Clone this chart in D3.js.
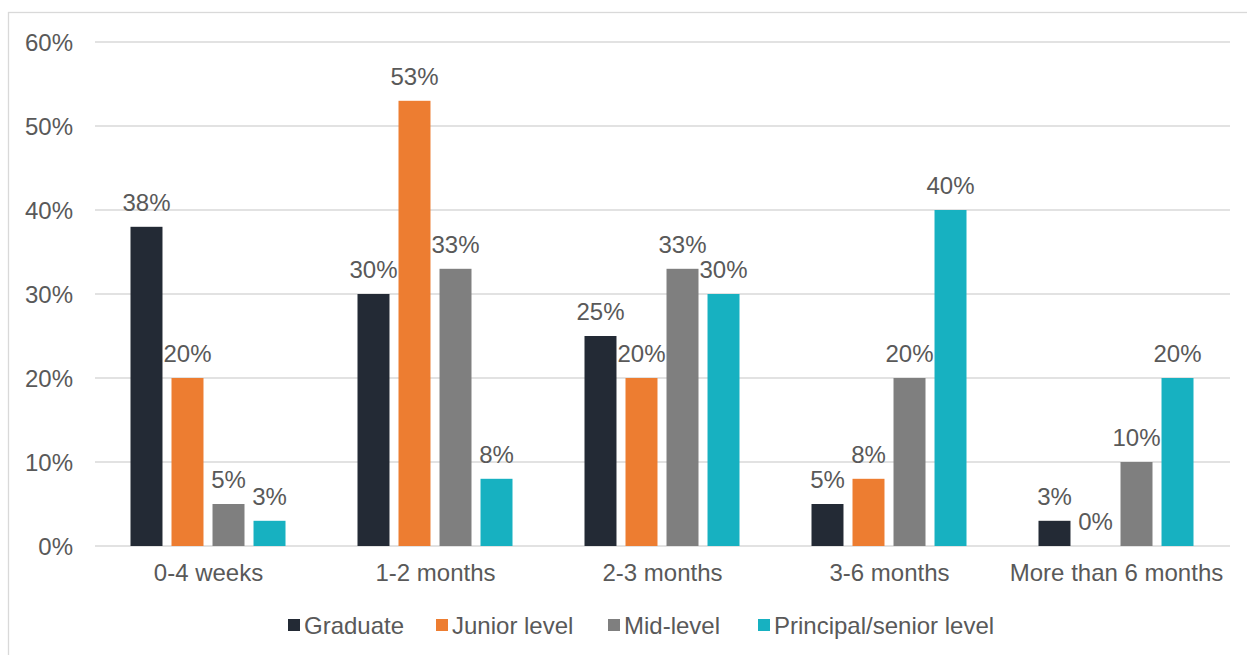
<!DOCTYPE html>
<html><head><meta charset="utf-8">
<script src="https://cdn.jsdelivr.net/npm/d3@7"></script>
<style>body{margin:0;background:#fff}svg{display:block}text{font-family:"Liberation Sans",Arial,sans-serif;fill:#595959}</style>
</head><body><svg id="c" width="1247" height="655"></svg>
<script>
const categories = ["0-4 weeks","1-2 months","2-3 months","3-6 months","More than 6 months"];
const seriesNames = ["Graduate","Junior level","Mid-level","Principal/senior level"];
const graduate = [38,30,25,5,3];
const junior = [20,53,20,8,0];
const mid = [5,33,33,20,10];
const principal = [3,8,30,40,20];
const yTicks = [0,10,20,30,40,50,60];
const colors = ["#232A35","#ED7D31","#7F7F7F","#17B1C1"];
const series = [graduate, junior, mid, principal];
const FS = 24;

const svg = d3.select("#c");
svg.append("rect").attr("x",8.5).attr("y",12.5).attr("width",1250).attr("height",700).attr("fill","none").attr("stroke","#D9D9D9").attr("stroke-width",1.3);

const x0 = d3.scaleBand().domain(categories).range([95,1230]).paddingInner(0).paddingOuter(0);
const x1 = d3.scaleBand().domain(seriesNames).range([35.5,190.5]).paddingInner(0.22).paddingOuter(0);
const y = d3.scaleLinear().domain([0,60]).range([546,42]);

const grid = svg.append("g");
yTicks.forEach(t=>{
  grid.append("line").attr("x1",95).attr("x2",1230).attr("y1",y(t)).attr("y2",y(t)).attr("stroke","#D9D9D9").attr("stroke-width",1.5);
});
const yAxis = d3.axisLeft(y).tickValues(yTicks).tickFormat(d=>d+"%").tickSize(0).tickPadding(0);
const ya = svg.append("g").attr("transform","translate(73,0)").call(yAxis);
ya.select(".domain").remove();
ya.selectAll("text").attr("font-size",FS).attr("dy","0.37em").attr("fill","#595959").style("font-family","Liberation Sans, Arial, sans-serif");

const xAxis = d3.axisBottom(x0).tickSize(0).tickPadding(0);
const xa = svg.append("g").attr("transform","translate(0,581)").call(xAxis);
xa.select(".domain").remove();
xa.selectAll("text").attr("font-size",FS).attr("dy",0).attr("fill","#595959").style("font-family","Liberation Sans, Arial, sans-serif");

categories.forEach((c,ci)=>{
  seriesNames.forEach((s,si)=>{
    const v = series[si][ci];
    const bx = x0(c)+x1(s);
    svg.append("rect").attr("x",bx).attr("y",y(v)).attr("width",x1.bandwidth()).attr("height",y(0)-y(v)).attr("fill",colors[si]);
    svg.append("text").attr("x",bx+x1.bandwidth()/2).attr("y",y(v)-16).attr("text-anchor","middle").attr("font-size",FS).text(v+"%");
  });
});

const legX = [288,436,608,758];
const lg = svg.append("g");
seriesNames.forEach((s,i)=>{
  lg.append("rect").attr("x",legX[i]).attr("y",619).attr("width",12).attr("height",12).attr("fill",colors[i]);
  lg.append("text").attr("x",legX[i]+16).attr("y",634).attr("font-size",FS).attr("textLength",null).text(s);
});
</script></body></html>
